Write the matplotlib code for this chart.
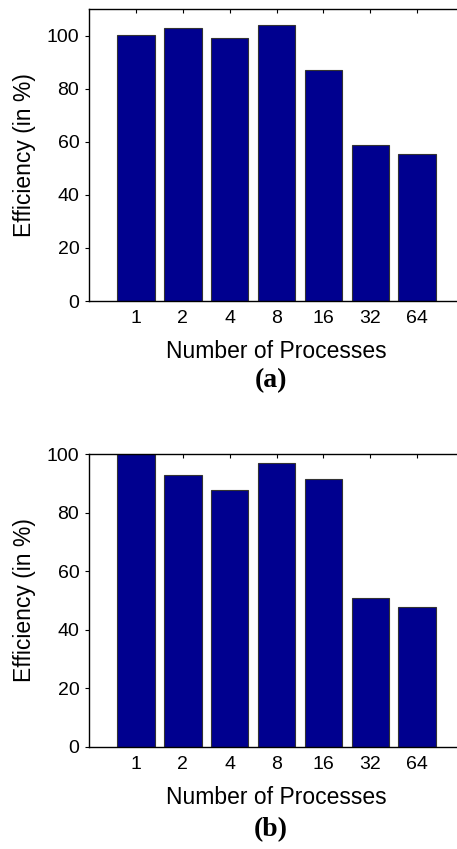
import matplotlib
matplotlib.use("Agg")
import matplotlib.pyplot as plt
import numpy as np

categories = ["1", "2", "4", "8", "16", "32", "64"]
eff_a = [100.2, 102.9, 99.1, 103.8, 86.9, 58.7, 55.3]
eff_b = [100.0, 92.9, 87.9, 97.0, 91.6, 50.7, 47.9]
yticks = [0, 20, 40, 60, 80, 100]
panel_labels = ["(a)", "(b)"]

plt.rcParams['font.family'] = ['Liberation Sans', 'DejaVu Sans']

W, H = 457, 849
fig = plt.figure(figsize=(W / 100, H / 100), dpi=100)

def px_axes(left, top, right, bottom):
    return fig.add_axes([left / W, 1 - bottom / H, (right - left) / W, (bottom - top) / H])

bar_color = '#00008F'
specs = [
    (eff_a, (89, 9, 464, 301), 110, 381),
    (eff_b, (89, 454.3, 464, 746.7), 100, 830),
]

x = np.arange(1, len(categories) + 1)
for (vals, box, ymax, lab_y), plab in zip(specs, panel_labels):
    ax = px_axes(*box)
    ax.bar(x, vals, width=0.8, color=bar_color, edgecolor='#333333', linewidth=0.8, zorder=2)
    ax.set_xlim(0, 8)
    ax.set_ylim(0, ymax)
    ax.set_xticks(x)
    ax.set_xticklabels(categories)
    ax.set_yticks(yticks)
    ax.tick_params(axis='x', direction='in', top=True, bottom=True, length=3, width=0.8,
                   labelsize=14, pad=6.5)
    ax.tick_params(axis='y', direction='out', left=True, right=False, length=3, width=0.8,
                   labelsize=14, pad=4)
    for s in ax.spines.values():
        s.set_linewidth(1.0)
    ax.set_xlabel("Number of Processes", fontsize=16.5)
    ax.xaxis.set_label_coords(0.5, -50.7 / (box[3] - box[1]))
    ax.xaxis.label.set_va('center')
    ax.set_ylabel("Efficiency (in %)", fontsize=16.5)
    ax.yaxis.set_label_coords((25 - 89) / 375, 0.5)
    ax.yaxis.label.set_va('center')
    fig.text(271 / W, 1 - lab_y / H, plab, ha='center', va='center',
             fontsize=20, fontweight='bold', family=['Liberation Serif', 'DejaVu Serif'])

fig.savefig("out.png", dpi=100)
